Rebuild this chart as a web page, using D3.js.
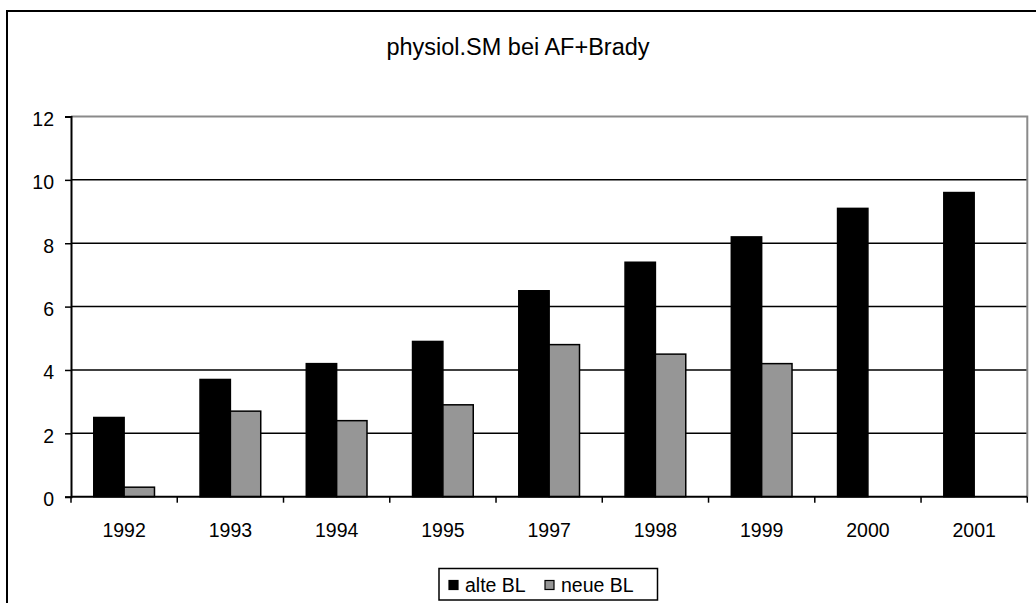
<!DOCTYPE html>
<html>
<head>
<meta charset="utf-8">
<script src="https://cdn.jsdelivr.net/npm/d3@7/dist/d3.min.js"></script>
<style>
  html, body { margin: 0; padding: 0; background: #fff; }
  svg { display: block; font-family: "Liberation Sans", Arial, sans-serif; }
</style>
</head>
<body>
<svg id="chart" width="1036" height="603"></svg>
<script>
// Chart data
const years = ["1992", "1993", "1994", "1995", "1997", "1998", "1999", "2000", "2001"];
const alteBL = [2.5, 3.7, 4.2, 4.9, 6.5, 7.4, 8.2, 9.1, 9.6];
const neueBL = [0.3, 2.7, 2.4, 2.9, 4.8, 4.5, 4.2, null, null];
const seriesNames = ["alte BL", "neue BL"];
const seriesColors = ["#000000", "#969696"];
const yTicks = [0, 2, 4, 6, 8, 10, 12];
const titleText = "physiol.SM bei AF+Brady";

const svg = d3.select("#chart");

// Outer chart frame (runs past the right and bottom edges of the view)
svg.append("rect")
  .attr("x", 7).attr("y", 11)
  .attr("width", 1100).attr("height", 700)
  .attr("fill", "none").attr("stroke", "#000").attr("stroke-width", 2);

// Title
svg.append("text")
  .attr("x", 518).attr("y", 55)
  .attr("text-anchor", "middle")
  .attr("font-size", 23.5)
  .attr("fill", "#000")
  .text(titleText);

// Plot area
const plot = { left: 71, right: 1027.3, top: 116.5, bottom: 496.7 };

const x = d3.scaleBand()
  .domain(years)
  .range([plot.left, plot.right])
  .paddingInner(3 / 7)
  .paddingOuter(1.5 / 7);

const xSeries = d3.scaleBand()
  .domain(seriesNames)
  .range([0, x.bandwidth()])
  .padding(0);

const y = d3.scaleLinear()
  .domain([0, 12])
  .range([plot.bottom, plot.top]);

const g = svg.append("g");

// Horizontal gridlines
g.append("g")
  .selectAll("line")
  .data(yTicks.filter(t => t > 0 && t < 12))
  .join("line")
  .attr("x1", plot.left).attr("x2", plot.right)
  .attr("y1", d => y(d)).attr("y2", d => y(d))
  .attr("stroke", "#000").attr("stroke-width", 1.5);

// Plot area border (top and right)
g.append("path")
  .attr("d", `M${plot.left},${y(12)}H${plot.right}V${plot.bottom}`)
  .attr("fill", "none").attr("stroke", "#8a8a8a").attr("stroke-width", 2);

// Bars
const rows = years.map((yr, i) => ({ year: yr, values: [alteBL[i], neueBL[i]] }));
const groups = g.append("g")
  .selectAll("g")
  .data(rows)
  .join("g")
  .attr("transform", d => `translate(${x(d.year)},0)`);

groups.selectAll("rect")
  .data(d => d.values.map((v, k) => ({ name: seriesNames[k], value: v, k }))
    .filter(s => s.value !== null))
  .join("rect")
  .attr("x", d => xSeries(d.name))
  .attr("width", xSeries.bandwidth())
  .attr("y", d => y(d.value))
  .attr("height", d => y(0) - y(d.value))
  .attr("fill", d => seriesColors[d.k])
  .attr("stroke", "#000")
  .attr("stroke-width", 1.5);

// Y axis
const yAxis = d3.axisLeft(y)
  .tickValues(yTicks)
  .tickSize(6)
  .tickPadding(11)
  .tickFormat(d3.format("d"));

const yg = svg.append("g")
  .attr("transform", `translate(${plot.left},0)`)
  .call(yAxis);
yg.select(".domain").attr("stroke", "#000").attr("stroke-width", 2);
yg.selectAll(".tick line").attr("stroke", "#000").attr("stroke-width", 1.5);
yg.selectAll(".tick text")
  .attr("font-size", 19.5)
  .attr("fill", "#000")
  .attr("font-family", "Liberation Sans, Arial, sans-serif")
  .attr("dy", "0.45em");

// X axis with tick marks at category boundaries
const xg = svg.append("g")
  .attr("transform", `translate(0,${plot.bottom})`);

xg.append("line")
  .attr("x1", plot.left).attr("x2", plot.right)
  .attr("y1", 0).attr("y2", 0)
  .attr("stroke", "#000").attr("stroke-width", 2);

const boundaries = years.map(yr => x(yr) - x.step() * x.paddingOuter());
boundaries.push(plot.right);
xg.selectAll("line.tk")
  .data(boundaries)
  .join("line")
  .attr("class", "tk")
  .attr("x1", d => d).attr("x2", d => d)
  .attr("y1", 0).attr("y2", 6)
  .attr("stroke", "#000").attr("stroke-width", 1.5);

xg.selectAll("text")
  .data(years)
  .join("text")
  .attr("x", d => x(d) + x.bandwidth() / 2)
  .attr("y", 40)
  .attr("text-anchor", "middle")
  .attr("font-size", 19.5)
  .attr("fill", "#000")
  .text(d => d);

// Legend
const legend = svg.append("g").attr("transform", "translate(439,568.5)");
legend.append("rect")
  .attr("x", 0).attr("y", 0)
  .attr("width", 218.5).attr("height", 31.5)
  .attr("fill", "#fff").attr("stroke", "#000").attr("stroke-width", 1.5);

const legendX = [10, 106];
const items = legend.selectAll("g.item")
  .data(seriesNames)
  .join("g")
  .attr("class", "item")
  .attr("transform", (d, i) => `translate(${legendX[i]},0)`);
items.append("rect")
  .attr("x", 0).attr("y", 12)
  .attr("width", 9).attr("height", 9)
  .attr("fill", (d, i) => seriesColors[i])
  .attr("stroke", "#000").attr("stroke-width", 1.2);
items.append("text")
  .attr("x", 16).attr("y", 23.5)
  .attr("font-size", 19.5)
  .attr("fill", "#000")
  .text(d => d);
</script>
</body>
</html>
